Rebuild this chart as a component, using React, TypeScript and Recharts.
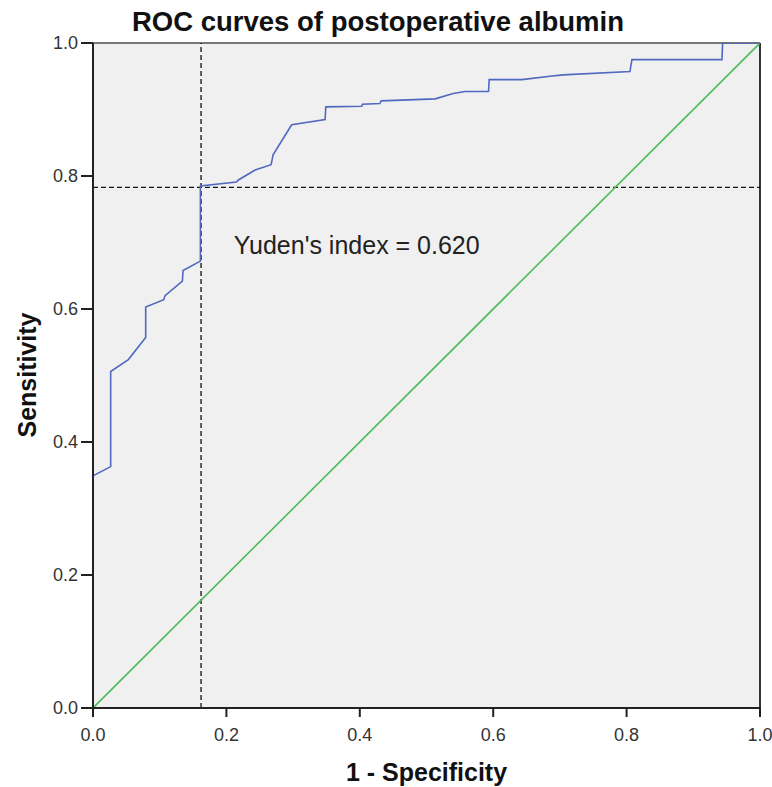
import React from "react";
import { LineChart, Line, XAxis, YAxis, CartesianGrid, ReferenceLine, ReferenceDot } from "recharts";

const rocFpr = [0, 0.0265, 0.0265, 0.053, 0.079, 0.079, 0.106, 0.108, 0.134, 0.135, 0.161, 0.161, 0.215, 0.218, 0.243, 0.267, 0.27, 0.296, 0.298, 0.348, 0.349, 0.403, 0.404, 0.43, 0.432, 0.513, 0.54, 0.558, 0.593, 0.594, 0.643, 0.685, 0.705, 0.805, 0.808, 0.943, 0.944, 1.0];
const rocTpr = [0.349, 0.363, 0.506, 0.524, 0.557, 0.603, 0.614, 0.62, 0.642, 0.658, 0.672, 0.785, 0.791, 0.794, 0.809, 0.817, 0.832, 0.874, 0.877, 0.885, 0.904, 0.905, 0.908, 0.909, 0.913, 0.916, 0.924, 0.927, 0.927, 0.945, 0.945, 0.95, 0.952, 0.957, 0.975, 0.975, 1.0, 1.0];
const refFpr = [0, 1];
const refTpr = [0, 1];
const ticks = [0, 0.2, 0.4, 0.6, 0.8, 1.0];
const cutoffFpr = 0.162;
const cutoffTpr = 0.783;
const annotation = "Yuden's index = 0.620";
const title = "ROC curves of postoperative albumin";
const xLabel = "1 - Specificity";
const yLabel = "Sensitivity";

const rocData = rocFpr.map((x, i) => ({ x, y: rocTpr[i] }));
const refData = refFpr.map((x, i) => ({ x, y: refTpr[i] }));

const FONT = "'Liberation Sans', Arial, sans-serif";

const XTick = (props: any) => {
  const { x, y, payload } = props;
  return (
    <text x={x} y={y} dy={22} fill="#333" fontSize={18} fontFamily={FONT} textAnchor="middle">
      {Number(payload.value).toFixed(1)}
    </text>
  );
};

const YTick = (props: any) => {
  const { x, y, payload } = props;
  return (
    <text x={x} y={y} dx={-1} dy={6} fill="#333" fontSize={18} fontFamily={FONT} textAnchor="end">
      {Number(payload.value).toFixed(1)}
    </text>
  );
};

export default function App() {
  return (
    <div style={{ position: "absolute", left: 0, top: 0, width: 772, height: 787, background: "#fff" }}>
      <LineChart width={772} height={787} margin={{ top: 43, right: 12, bottom: 49, left: 23 }}>
        <CartesianGrid horizontal={false} vertical={false} fill="#f0f0f0" />
        <XAxis
          type="number"
          dataKey="x"
          domain={[0, 1]}
          ticks={ticks}
          tickSize={9}
          height={30}
          stroke="#222"
          strokeWidth={2}
          tick={<XTick />}
          allowDataOverflow
        />
        <YAxis
          type="number"
          dataKey="y"
          domain={[0, 1]}
          ticks={ticks}
          tickSize={12}
          width={70}
          stroke="#222"
          strokeWidth={2}
          tick={<YTick />}
          allowDataOverflow
        />
        <ReferenceLine y={1} stroke="#777" strokeWidth={2} />
        <ReferenceLine x={1} stroke="#333" strokeWidth={2} />
        <ReferenceLine x={cutoffFpr} stroke="#111" strokeDasharray="5 3" strokeWidth={1.3} />
        <ReferenceLine y={cutoffTpr} stroke="#111" strokeDasharray="5 3" strokeWidth={1.3} />
        <Line data={refData} dataKey="y" type="linear" stroke="#4cbb5a" strokeWidth={1.6} dot={false} isAnimationActive={false} />
        <Line data={rocData} dataKey="y" type="linear" stroke="#5068c0" strokeWidth={1.6} dot={false} isAnimationActive={false} />
        <ReferenceDot
          x={0.211}
          y={0.696}
          r={0}
          label={{
            content: (props: any) => {
              const vb = props.viewBox || {};
              return (
                <text x={vb.x} y={vb.y} dy={9} fill="#222" fontSize={25} fontFamily={FONT} textAnchor="start">
                  {annotation}
                </text>
              );
            },
          }}
        />
      </LineChart>
      <div style={{ position: "absolute", left: 0, top: 5, width: 756, textAlign: "center", fontFamily: FONT, fontWeight: "bold", fontSize: 27.5, color: "#111", lineHeight: "34px" }}>
        {title}
      </div>
      <div style={{ position: "absolute", left: 93, top: 757, width: 667, textAlign: "center", fontFamily: FONT, fontWeight: "bold", fontSize: 25, color: "#111", lineHeight: "30px" }}>
        {xLabel}
      </div>
      <div style={{ position: "absolute", left: 27 - 100, top: 375 - 15, width: 200, height: 30, textAlign: "center", fontFamily: FONT, fontWeight: "bold", fontSize: 25, color: "#111", lineHeight: "30px", transform: "rotate(-90deg)" }}>
        {yLabel}
      </div>
    </div>
  );
}
